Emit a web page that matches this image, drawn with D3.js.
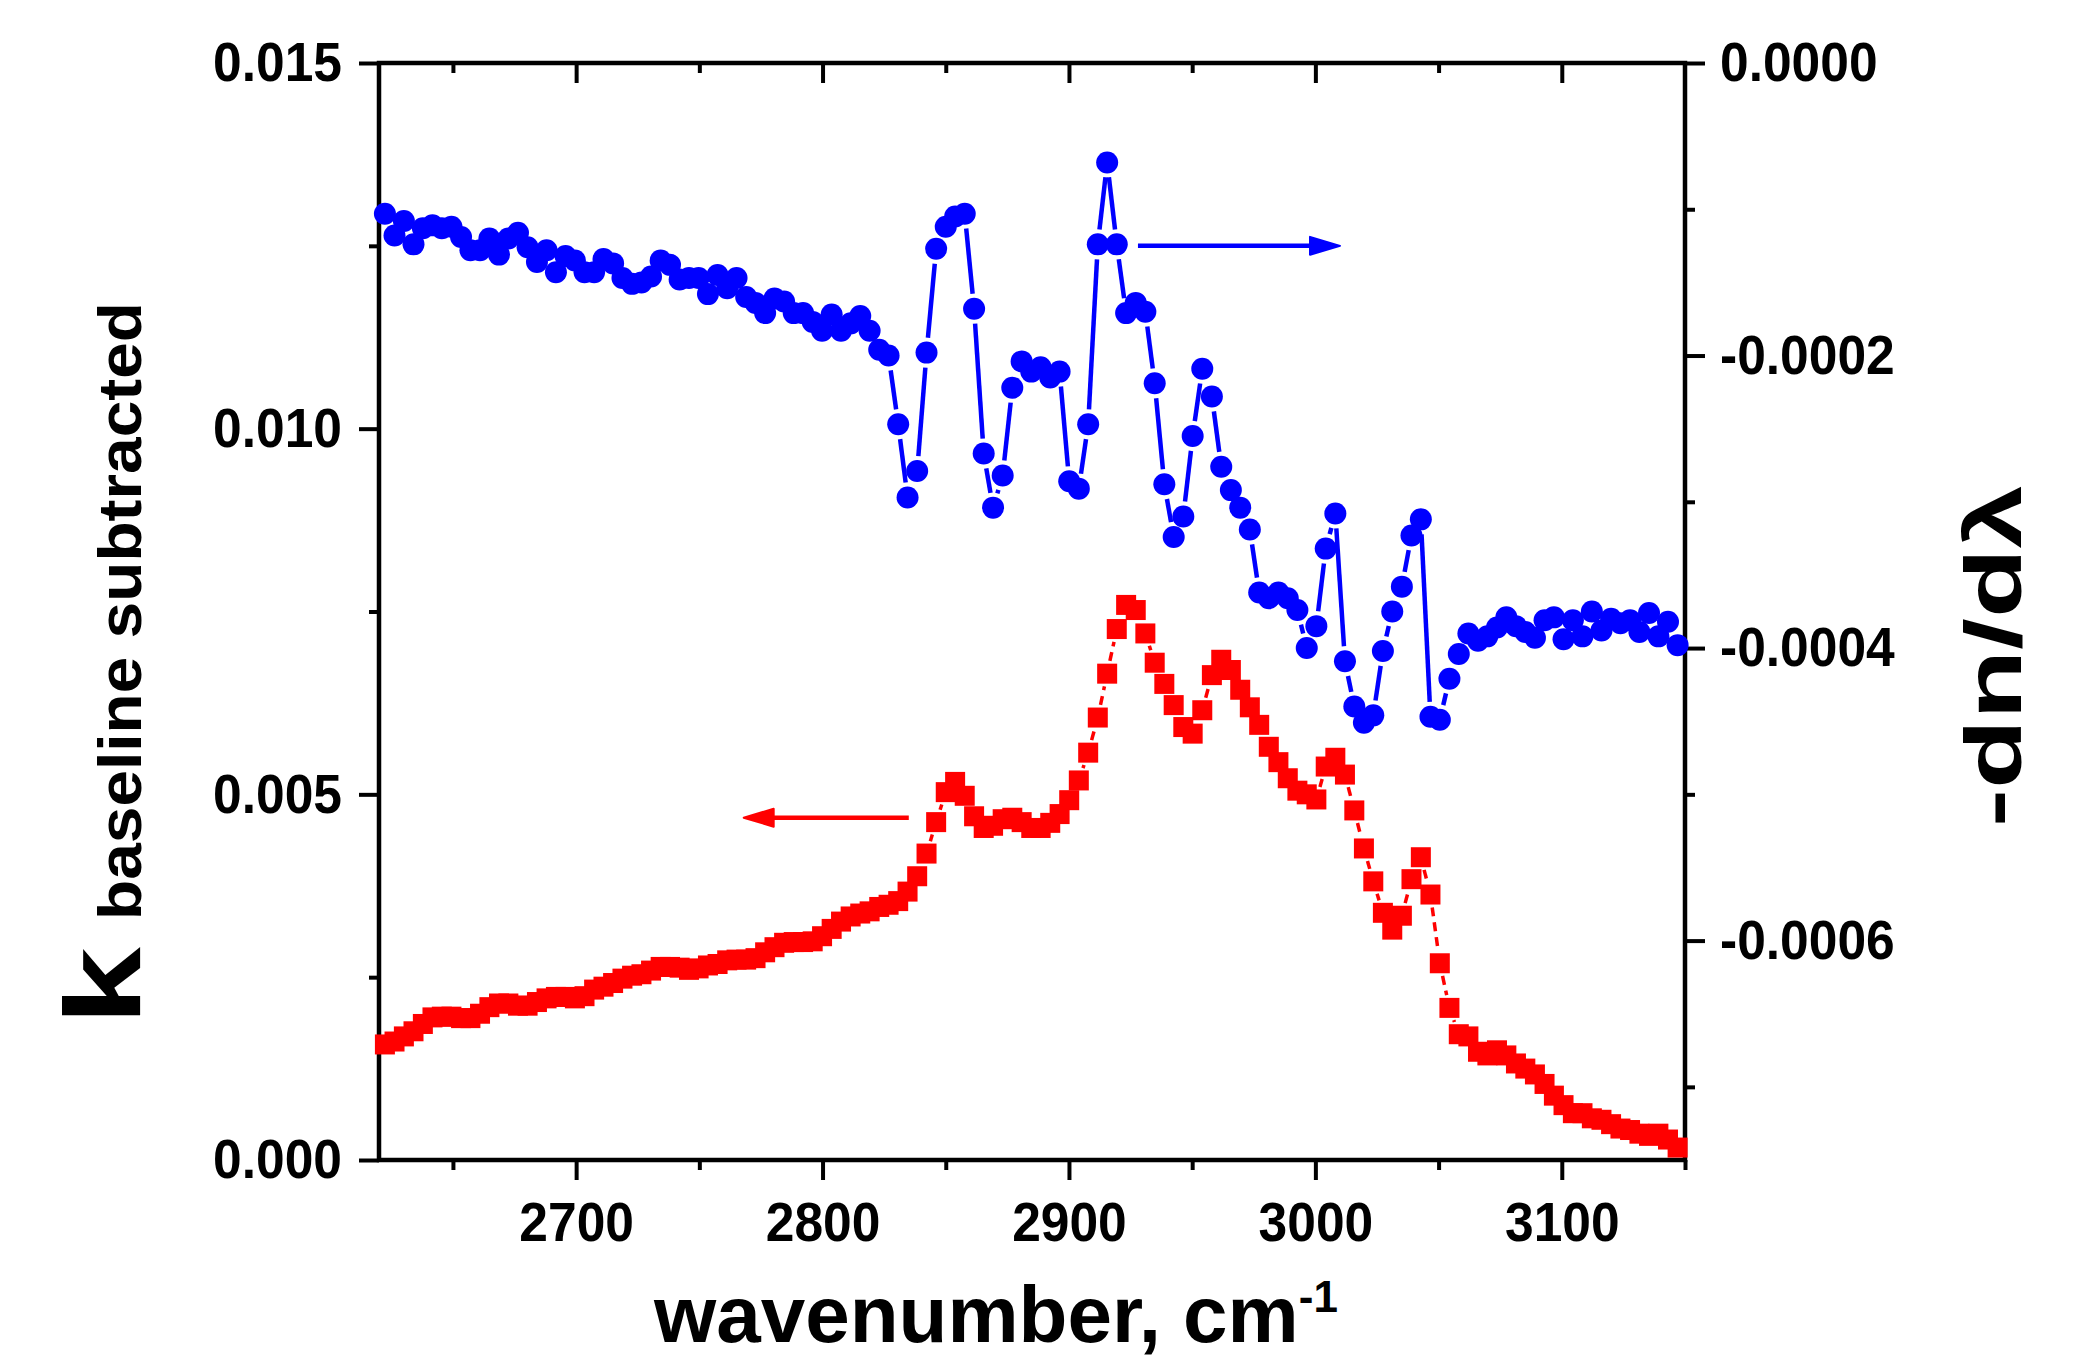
<!DOCTYPE html>
<html>
<head>
<meta charset="utf-8">
<script src="https://cdn.jsdelivr.net/npm/d3@7"></script>
<style>
  body { margin: 0; background: #fff; }
  text { font-family: "Liberation Sans", Arial, Helvetica, sans-serif; font-weight: bold; }
</style>
</head>
<body>
<script>
// wavenumber grid (cm-1), shared by both spectra
const wavenumber = [
  2622.4, 2626.3, 2630.1, 2634.0, 2637.8, 2641.7, 2645.5, 2649.4, 2653.3, 2657.1,
  2661.0, 2664.8, 2668.7, 2672.5, 2676.4, 2680.3, 2684.1, 2688.0, 2691.8, 2695.7,
  2699.5, 2703.4, 2707.3, 2711.1, 2715.0, 2718.8, 2722.7, 2726.5, 2730.4, 2734.3,
  2738.1, 2742.0, 2745.8, 2749.7, 2753.5, 2757.4, 2761.3, 2765.1, 2769.0, 2772.8,
  2776.7, 2780.5, 2784.4, 2788.3, 2792.1, 2796.0, 2799.8, 2803.7, 2807.5, 2811.4,
  2815.3, 2819.1, 2823.0, 2826.8, 2830.7, 2834.5, 2838.4, 2842.2, 2846.1, 2850.0,
  2853.8, 2857.7, 2861.5, 2865.4, 2869.2, 2873.1, 2877.0, 2880.8, 2884.7, 2888.5,
  2892.4, 2896.2, 2900.1, 2904.0, 2907.8, 2911.7, 2915.5, 2919.4, 2923.2, 2927.1,
  2931.0, 2934.8, 2938.7, 2942.5, 2946.4, 2950.2, 2954.1, 2958.0, 2961.8, 2965.7,
  2969.5, 2973.4, 2977.2, 2981.1, 2985.0, 2988.8, 2992.7, 2996.5, 3000.4, 3004.2,
  3008.1, 3012.0, 3015.8, 3019.7, 3023.5, 3027.4, 3031.2, 3035.1, 3039.0, 3042.8,
  3046.7, 3050.5, 3054.4, 3058.2, 3062.1, 3066.0, 3069.8, 3073.7, 3077.5, 3081.4,
  3085.2, 3089.1, 3093.0, 3096.8, 3100.7, 3104.5, 3108.4, 3112.2, 3116.1, 3120.0,
  3123.8, 3127.7, 3131.5, 3135.4, 3139.2, 3143.1, 3147.0
];

// k, baseline subtracted (left axis, red squares)
const kBaseline = [
  0.00158, 0.00162, 0.00169, 0.00176, 0.00186, 0.00195, 0.00196, 0.00196, 0.00194, 0.00194,
  0.00200, 0.00209, 0.00214, 0.00214, 0.00211, 0.00211, 0.00216, 0.00221, 0.00223, 0.00223,
  0.00221, 0.00224, 0.00233, 0.00237, 0.00242, 0.00248, 0.00252, 0.00254, 0.00259, 0.00264,
  0.00264, 0.00263, 0.00260, 0.00262, 0.00266, 0.00268, 0.00273, 0.00274, 0.00274, 0.00276,
  0.00284, 0.00291, 0.00297, 0.00298, 0.00298, 0.00299, 0.00306, 0.00316, 0.00326, 0.00333,
  0.00337, 0.00340, 0.00346, 0.00349, 0.00354, 0.00367, 0.00388, 0.00419, 0.00462, 0.00503,
  0.00517, 0.00498, 0.00470, 0.00454, 0.00457, 0.00466, 0.00468, 0.00462, 0.00454, 0.00454,
  0.00461, 0.00473, 0.00492, 0.00519, 0.00557, 0.00605, 0.00665, 0.00726, 0.00759, 0.00752,
  0.00720, 0.00680, 0.00651, 0.00622, 0.00592, 0.00583, 0.00615, 0.00663, 0.00684, 0.00670,
  0.00643, 0.00619, 0.00595, 0.00565, 0.00544, 0.00522, 0.00505, 0.00500, 0.00493, 0.00538,
  0.00550, 0.00527, 0.00478, 0.00426, 0.00381, 0.00338, 0.00315, 0.00334, 0.00384, 0.00414,
  0.00363, 0.00269, 0.00208, 0.00172, 0.00169, 0.00148, 0.00143, 0.00150, 0.00143, 0.00132,
  0.00125, 0.00117, 0.00104, 0.00088, 0.00075, 0.00064, 0.00064, 0.00057, 0.00055, 0.00049,
  0.00043, 0.00041, 0.00036, 0.00033, 0.00036, 0.00028, 0.00017
];

// -dn/dlambda (right axis, blue circles)
const dnDlambda = [
  -1.03e-4, -1.18e-4, -1.08e-4, -1.24e-4, -1.13e-4, -1.11e-4, -1.13e-4, -1.12e-4, -1.19e-4, -1.28e-4,
  -1.28e-4, -1.20e-4, -1.31e-4, -1.20e-4, -1.16e-4, -1.26e-4, -1.36e-4, -1.28e-4, -1.43e-4, -1.32e-4,
  -1.35e-4, -1.43e-4, -1.43e-4, -1.34e-4, -1.37e-4, -1.47e-4, -1.51e-4, -1.50e-4, -1.46e-4, -1.35e-4,
  -1.38e-4, -1.48e-4, -1.47e-4, -1.47e-4, -1.58e-4, -1.45e-4, -1.54e-4, -1.47e-4, -1.60e-4, -1.64e-4,
  -1.71e-4, -1.61e-4, -1.63e-4, -1.71e-4, -1.71e-4, -1.77e-4, -1.83e-4, -1.72e-4, -1.83e-4, -1.78e-4,
  -1.73e-4, -1.83e-4, -1.96e-4, -2.00e-4, -2.47e-4, -2.97e-4, -2.79e-4, -1.98e-4, -1.27e-4, -1.12e-4,
  -1.05e-4, -1.03e-4, -1.68e-4, -2.67e-4, -3.04e-4, -2.82e-4, -2.22e-4, -2.04e-4, -2.11e-4, -2.08e-4,
  -2.15e-4, -2.11e-4, -2.86e-4, -2.91e-4, -2.47e-4, -1.24e-4, -0.68e-4, -1.24e-4, -1.71e-4, -1.64e-4,
  -1.70e-4, -2.19e-4, -2.88e-4, -3.24e-4, -3.10e-4, -2.55e-4, -2.09e-4, -2.28e-4, -2.76e-4, -2.92e-4,
  -3.04e-4, -3.19e-4, -3.62e-4, -3.66e-4, -3.62e-4, -3.66e-4, -3.74e-4, -4.00e-4, -3.85e-4, -3.32e-4,
  -3.08e-4, -4.09e-4, -4.40e-4, -4.51e-4, -4.46e-4, -4.02e-4, -3.75e-4, -3.58e-4, -3.23e-4, -3.12e-4,
  -4.47e-4, -4.49e-4, -4.21e-4, -4.04e-4, -3.90e-4, -3.95e-4, -3.92e-4, -3.86e-4, -3.79e-4, -3.85e-4,
  -3.89e-4, -3.93e-4, -3.81e-4, -3.79e-4, -3.94e-4, -3.81e-4, -3.92e-4, -3.75e-4, -3.88e-4, -3.80e-4,
  -3.83e-4, -3.81e-4, -3.89e-4, -3.76e-4, -3.92e-4, -3.82e-4, -3.98e-4
];

const xMajor = [2700, 2800, 2900, 3000, 3100];
const xMinor = [2650, 2750, 2850, 2950, 3050, 3150];
const kMajor = [0, 0.005, 0.010, 0.015];
const kMinor = [0.0025, 0.0075, 0.0125];
const dnMajor = [0, -0.0002, -0.0004, -0.0006];
const dnMinor = [-0.0001, -0.0003, -0.0005, -0.0007];

// arrows telling which axis each curve belongs to
const arrowDn = { from: 2928, to: 3010, value: -1.25e-4 };
const arrowK = { from: 2835, to: 2768, value: 0.00468 };

const width = 2085, height = 1360;
const margin = { top: 63, right: 400, bottom: 200, left: 379 };
const blue = "#0000ff", red = "#ff0000";
const font = "'Liberation Sans', Arial, Helvetica, sans-serif";

const x = d3.scaleLinear().domain([2620, 3150]).range([margin.left, width - margin.right]);
const yK = d3.scaleLinear().domain([0, 0.015]).range([height - margin.bottom, margin.top]);
const yDn = d3.scaleLinear().domain([-0.00075, 0]).range([height - margin.bottom, margin.top]);

const svg = d3.create("svg")
    .attr("width", width)
    .attr("height", height)
    .attr("viewBox", [0, 0, width, height])
    .style("background", "#fff");

document.body.appendChild(svg.node());

// axes helper: removes domain, sets thick ticks and bold, slightly condensed labels
function addAxis(axis, tx, ty) {
    const g = svg.append("g")
        .attr("transform", `translate(${tx},${ty})`)
        .call(axis);
    g.select(".domain").remove();
    g.attr("font-size", 56).attr("font-family", font).attr("font-weight", "bold");
    g.selectAll(".tick line").attr("stroke", "#000").attr("stroke-width", 4);
    g.selectAll(".tick text")
        .attr("fill", "#000")
        .each(function() {
            if (!this.textContent) return;
            const w = this.getComputedTextLength();
            d3.select(this).attr("textLength", w * 0.92).attr("lengthAdjust", "spacingAndGlyphs");
        });
    return g;
}

const x0 = margin.left, x1 = width - margin.right;
const y0 = margin.top, y1 = height - margin.bottom;

// bottom axis
addAxis(d3.axisBottom(x).tickValues(xMajor).tickSize(20).tickPadding(21).tickFormat(d3.format("d")), 0, y1);
addAxis(d3.axisBottom(x).tickValues(xMinor).tickSize(10).tickFormat(() => ""), 0, y1);
// top axis, ticks pointing in
addAxis(d3.axisBottom(x).tickValues(xMajor).tickSize(20).tickFormat(() => ""), 0, y0);
addAxis(d3.axisBottom(x).tickValues(xMinor.filter(d => d < 3150)).tickSize(10).tickFormat(() => ""), 0, y0);
// left axis
addAxis(d3.axisLeft(yK).tickValues(kMajor).tickSize(20).tickPadding(17).tickFormat(d3.format(".3f")), x0, 0);
addAxis(d3.axisLeft(yK).tickValues(kMinor).tickSize(10).tickFormat(() => ""), x0, 0);
// right axis
addAxis(d3.axisRight(yDn).tickValues(dnMajor).tickSize(20).tickPadding(15).tickFormat(d => (d === 0 ? 0 : d).toFixed(4)), x1, 0);
addAxis(d3.axisRight(yDn).tickValues(dnMinor).tickSize(10).tickFormat(() => ""), x1, 0);

// frame
svg.append("rect")
    .attr("x", x0).attr("y", y0)
    .attr("width", x1 - x0).attr("height", y1 - y0)
    .attr("fill", "none").attr("stroke", "#000").attr("stroke-width", 4.5);

// line segments with a gap around each symbol (Origin style)
function gappedSegments(pts, trim) {
    return d3.pairs(pts).map(([a, b]) => {
        const dx = b[0] - a[0], dy = b[1] - a[1];
        const len = Math.hypot(dx, dy);
        if (len <= 2 * trim) return null;
        const ux = dx / len, uy = dy / len;
        return [a[0] + ux * trim, a[1] + uy * trim, b[0] - ux * trim, b[1] - uy * trim];
    }).filter(d => d);
}

const kPts = wavenumber.map((w, i) => [x(w), yK(kBaseline[i])]);
const dnPts = wavenumber.map((w, i) => [x(w), yDn(dnDlambda[i])]);

// red dashed connecting line
svg.append("g")
    .attr("stroke", red).attr("stroke-width", 3.5).attr("stroke-dasharray", "9,6")
    .selectAll("line")
    .data(gappedSegments(kPts, 13))
    .join("line")
    .attr("x1", d => d[0]).attr("y1", d => d[1])
    .attr("x2", d => d[2]).attr("y2", d => d[3]);

// blue solid connecting line
svg.append("g")
    .attr("stroke", blue).attr("stroke-width", 4.5)
    .selectAll("line")
    .data(gappedSegments(dnPts, 15))
    .join("line")
    .attr("x1", d => d[0]).attr("y1", d => d[1])
    .attr("x2", d => d[2]).attr("y2", d => d[3]);

// red squares
svg.append("g")
    .attr("fill", red)
    .selectAll("rect")
    .data(kPts)
    .join("rect")
    .attr("x", d => d[0] - 10).attr("y", d => d[1] - 10)
    .attr("width", 20).attr("height", 20);

// blue circles
svg.append("g")
    .attr("fill", blue)
    .selectAll("circle")
    .data(dnPts)
    .join("circle")
    .attr("cx", d => d[0]).attr("cy", d => d[1])
    .attr("r", 11);

// arrows
function arrow(xa, xb, yy, color) {
    const dir = Math.sign(xb - xa);
    const head = 30, half = 9;
    svg.append("line")
        .attr("x1", xa).attr("y1", yy)
        .attr("x2", xb - dir * head * 0.8).attr("y2", yy)
        .attr("stroke", color).attr("stroke-width", 4.5);
    svg.append("path")
        .attr("d", `M${xb},${yy} L${xb - dir * head},${yy - half} L${xb - dir * head},${yy + half} Z`)
        .attr("fill", color).attr("stroke", color).attr("stroke-width", 2).attr("stroke-linejoin", "round");
}
arrow(x(arrowDn.from), x(arrowDn.to), yDn(arrowDn.value), blue);
arrow(x(arrowK.from), x(arrowK.to), yK(arrowK.value), red);

// x axis title
const xt = svg.append("text")
    .attr("x", 654).attr("y", 1342)
    .attr("font-size", 80).attr("fill", "#000");
xt.append("tspan").text("wavenumber, cm");
xt.append("tspan").attr("font-size", 44).attr("dy", -30).text("-1");

// left axis title: k with subscript
svg.append("text")
    .attr("transform", "translate(140,1025) rotate(-90)")
    .attr("font-size", 108)
    .attr("textLength", 78).attr("lengthAdjust", "spacingAndGlyphs")
    .text("k");
svg.append("text")
    .attr("transform", "translate(141,920) rotate(-90)")
    .attr("font-size", 62)
    .attr("textLength", 618).attr("lengthAdjust", "spacingAndGlyphs")
    .text("baseline subtracted");

// right axis title
svg.append("text")
    .attr("transform", "translate(2021,827) rotate(-90)")
    .attr("font-size", 80)
    .attr("textLength", 342).attr("lengthAdjust", "spacingAndGlyphs")
    .text("-dn/dλ");
</script>
</body>
</html>
